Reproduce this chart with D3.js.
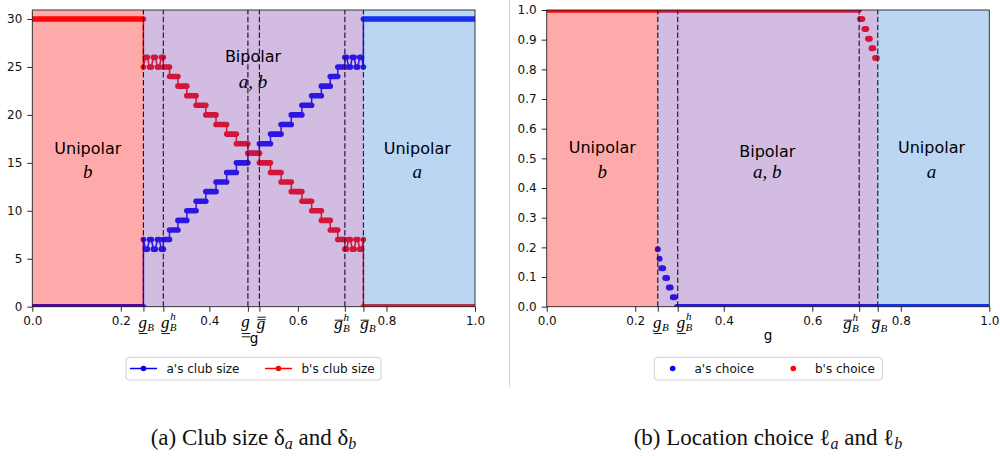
<!DOCTYPE html>
<html><head><meta charset="utf-8">
<script src="https://cdn.jsdelivr.net/npm/d3@7"></script>
<style>body{margin:0;background:#fff}svg{display:block}</style>
</head><body>
<svg id="c" width="1000" height="456"></svg>
<script>
// ---------------- data ----------------
const gB = 0.251, gBh = 0.296, gUU = 0.487, gOO = 0.513, gBarBh = 0.706, gBarB = 0.748;
const markLeft = [gB, gBh, gUU, gOO, gBarBh, gBarB];
const markLeftKinds = ["under", "underh", "dunder", "dover", "overh", "over"];
const markRight = [gB, gBh, gBarBh, gBarB];
const markRightKinds = ["under", "underh", "overh", "over"];
const xTicks = [0, 0.2, 0.4, 0.6, 0.8, 1.0];
const yTicksLeft = [0, 5, 10, 15, 20, 25, 30];
const yTicksRight = [0, 0.1, 0.2, 0.3, 0.4, 0.5, 0.6, 0.7, 0.8, 0.9, 1.0];

// staircase in the bipolar region (edges and step values)
const stepEdges = [0.296, 0.310, 0.329, 0.349, 0.370, 0.392, 0.415, 0.439, 0.461, 0.487, 0.513,
                   0.538, 0.562, 0.585, 0.609, 0.631, 0.653, 0.673, 0.690, 0.706];
const aClubSteps = [7, 8, 9, 10, 11, 12, 13, 14, 15, 16, 17, 18, 19, 20, 21, 22, 23, 24, 25];
const bClubSteps = [25, 24, 23, 22, 21, 20, 19, 18, 17, 16, 15, 14, 13, 12, 11, 10, 9, 8, 7];
// oscillating parts
const combLowG  = [0.251, 0.2555, 0.260, 0.2645, 0.269, 0.2735, 0.278, 0.2825, 0.287, 0.2915, 0.296];
const aCombLow  = [7, 6, 6, 7, 7, 6, 6, 7, 7, 6, 6];
const bCombLow  = [25, 26, 26, 25, 25, 26, 26, 25, 25, 26, 26];
const combHighG = [0.706, 0.7102, 0.7144, 0.7186, 0.7228, 0.727, 0.7312, 0.7354, 0.7396, 0.7438, 0.748];
const aCombHigh = [26, 26, 25, 25, 26, 26, 25, 25, 26, 26, 25];
const bCombHigh = [6, 6, 7, 7, 6, 6, 7, 7, 6, 6, 7];
// unipolar levels [below gB, above gBarB]
const aClubOuter = [0, 30];
const bClubOuter = [30, 0];

// location choice
const aChoiceG = [0.251, 0.255, 0.259, 0.263, 0.268, 0.272, 0.276, 0.280, 0.285, 0.289];
const aChoiceV = [0.194, 0.162, 0.130, 0.130, 0.097, 0.097, 0.065, 0.065, 0.032, 0.032];
const aChoiceFlat = [0.294, 1.0, 0];   // from, to, value
const bChoiceG = [0.708, 0.713, 0.718, 0.722, 0.726, 0.730, 0.734, 0.738, 0.742, 0.746];
const bChoiceV = [0.970, 0.970, 0.936, 0.936, 0.903, 0.903, 0.871, 0.871, 0.838, 0.838];
const bChoiceFlat = [0.0, 0.706, 1];

// ---------------- drawing ----------------
const svg = d3.select("#c");
const SANS = "DejaVu Sans, sans-serif";
const SERIF = "Liberation Serif, DejaVu Serif, serif";
const RED = "#ff0000", BLUE = "#0000ff";
const regionCols = ["rgb(255,12,12)", "rgb(126,64,169)", "rgb(61,138,221)"];
const regionAlpha = 0.35;

function makeChart(id, x0, x1, yScale, yTicks, yFmt) {
  const x = d3.scaleLinear().domain([0, 1]).range([x0, x1]);
  const y = yScale;
  const g = svg.append("g");
  const clipId = "clip" + id;
  svg.append("clipPath").attr("id", clipId).append("rect")
    .attr("x", x0).attr("y", y.range()[1]).attr("width", x1 - x0).attr("height", y.range()[0] - y.range()[1]);
  const series = g.append("g").attr("clip-path", `url(#${clipId})`);
  const over = g.append("g");
  const top = g.append("g");
  return {x, y, g, series, over, top, yTicks, yFmt, x0, x1};
}

function dashes(c, marks) {
  c.series.selectAll(null).data(marks).enter().append("line")
    .attr("x1", d => c.x(d)).attr("x2", d => c.x(d))
    .attr("y1", c.y.range()[0]).attr("y2", c.y.range()[1])
    .attr("stroke", "#000").attr("stroke-width", 1.2).attr("stroke-dasharray", "5.5,2.4");
}

function regions(c) {
  const spans = [[0, gB], [gB, gBarB], [gBarB, 1]];
  c.over.selectAll(null).data(spans).enter().append("rect")
    .attr("x", d => c.x(d[0])).attr("width", d => c.x(d[1]) - c.x(d[0]))
    .attr("y", c.y.range()[1]).attr("height", c.y.range()[0] - c.y.range()[1])
    .attr("fill", (d, i) => regionCols[i]).attr("fill-opacity", regionAlpha);
}

function axes(c, kinds, marks) {
  const t = c.top;
  const xa = d3.axisBottom(c.x).tickValues(xTicks.concat(marks)).tickSize(5).tickPadding(5).tickSizeOuter(0)
    .tickFormat(d => xTicks.includes(d) ? d3.format(".1f")(d) : "");
  const gx = t.append("g").attr("transform", `translate(0,${c.y.range()[0]})`).call(xa);
  const ya = d3.axisLeft(c.y).tickValues(c.yTicks).tickSize(5).tickPadding(5).tickSizeOuter(0).tickFormat(c.yFmt);
  const gy = t.append("g").attr("transform", `translate(${c.x0},0)`).call(ya);
  [gx, gy].forEach(a => {
    a.select(".domain").remove();
    a.selectAll("text").attr("font-family", SANS).attr("font-size", 12).attr("fill", "#111");
    a.selectAll("line").attr("stroke", "#111").attr("stroke-width", 0.9);
  });
  t.append("rect").attr("x", c.x0).attr("y", c.y.range()[1]).attr("width", c.x1 - c.x0)
    .attr("height", c.y.range()[0] - c.y.range()[1]).attr("fill", "none").attr("stroke", "#222").attr("stroke-width", 0.9);
  const offs = {under: -5, underh: -2.3, dunder: -6.6, dover: -2.6, overh: -10.7, over: -3.3};
  marks.forEach((m, i) => mathTick(t, c.x(m) + (c.offs ? c.offs[i] : offs[kinds[i]]), kinds[i]));
}

function mathTick(t, xs, kind) {
  const base = {under: 328, underh: 328, dunder: 326.5, dover: 329, overh: 329, over: 329}[kind];
  const gt = t.append("text").attr("x", xs).attr("y", base).attr("font-family", SERIF)
    .attr("font-style", "italic").attr("font-size", 17).attr("fill", "#000").text("g");
  const w = gt.node().getComputedTextLength();
  const hasB = kind !== "dunder" && kind !== "dover";
  if (hasB) t.append("text").attr("x", xs + w + 0.3).attr("y", base + 3).attr("font-family", SERIF)
    .attr("font-style", "italic").attr("font-size", 11).text("B");
  if (kind === "underh" || kind === "overh") t.append("text").attr("x", xs + w + 0.8).attr("y", base - 8)
    .attr("font-family", SERIF).attr("font-style", "italic").attr("font-size", 11).text("h");
  const ln = (yy) => t.append("line").attr("x1", xs + 0.5).attr("x2", xs + w + 0.5).attr("y1", yy).attr("y2", yy)
    .attr("stroke", "#000").attr("stroke-width", 0.9);
  if (kind === "under" || kind === "underh") ln(base + 5.5);
  if (kind === "dunder") { ln(base + 7); ln(base + 10.3); }
  if (kind === "over" || kind === "overh") ln(base - 8.8);
  if (kind === "dover") { ln(base - 11.8); ln(base - 9.3); }
}

function regionText(c, gx, y1, y2, word, math) {
  c.top.append("text").attr("x", c.x(gx)).attr("y", y1).attr("text-anchor", "middle")
    .attr("font-family", SANS).attr("font-size", 16).attr("fill", "#000").text(word);
  c.top.append("text").attr("x", c.x(gx)).attr("y", y2).attr("text-anchor", "middle")
    .attr("font-family", SERIF).attr("font-style", "italic").attr("font-size", 19).attr("fill", "#000").text(math);
}

// ---- left chart: club sizes
const L = makeChart("L", 32.3, 475, d3.scaleLinear().domain([0, 30.94]).range([306.7, 10]), yTicksLeft, d3.format("d"));

function clubSeries(outer, combLow, steps, combHigh, color) {
  const segs = [{g0: 0, g1: gB, v: outer[0]}];
  steps.forEach((v, i) => segs.push({g0: stepEdges[i], g1: stepEdges[i + 1], v}));
  segs.push({g0: gBarB, g1: 1, v: outer[1]});
  const pts = [[0, outer[0]], [gB, outer[0]]];
  combLowG.forEach((gg, i) => pts.push([gg, combLow[i]]));
  steps.forEach((v, i) => { pts.push([stepEdges[i], v]); pts.push([stepEdges[i + 1], v]); });
  combHighG.forEach((gg, i) => pts.push([gg, combHigh[i]]));
  pts.push([gBarB, outer[1]]); pts.push([1, outer[1]]);
  const line = d3.line().x(d => L.x(d[0])).y(d => L.y(d[1]));
  const s = L.series.append("g");
  s.selectAll(null).data(segs).enter().append("line")
    .attr("x1", d => L.x(d.g0)).attr("x2", d => L.x(d.g1)).attr("y1", d => L.y(d.v)).attr("y2", d => L.y(d.v))
    .attr("stroke", color).attr("stroke-width", 5.6).attr("stroke-linecap", "round");
  const combPts = combLowG.map((gg, i) => [gg, combLow[i]]).concat(combHighG.map((gg, i) => [gg, combHigh[i]]));
  s.selectAll(null).data(combPts).enter().append("circle")
    .attr("cx", d => L.x(d[0])).attr("cy", d => L.y(d[1])).attr("r", 2.8).attr("fill", color);
  s.append("path").attr("d", line(pts)).attr("fill", "none").attr("stroke", color).attr("stroke-width", 1.5);
}
clubSeries(aClubOuter, aCombLow, aClubSteps, aCombHigh, BLUE);
clubSeries(bClubOuter, bCombLow, bClubSteps, bCombHigh, RED);
dashes(L, markLeft);
regions(L);
axes(L, markLeftKinds, markLeft);
regionText(L, 0.1255, 154, 178, "Unipolar", "b");
regionText(L, 0.4985, 62, 88, "Bipolar", "a, b");
regionText(L, 0.8695, 154, 178, "Unipolar", "a");
L.top.append("text").attr("x", 254).attr("y", 343).attr("text-anchor", "middle")
  .attr("font-family", SANS).attr("font-size", 13.5).text("g");

// ---- right chart: location choice
const R = makeChart("R", 546.7, 989.3, d3.scaleLinear().domain([0, 1]).range([306.7, 10]), yTicksRight, d3.format(".1f"));
R.offs = [-4.7, -1, -16, -6];
function choiceSeries(flat, gs, vs, color) {
  const s = R.series.append("g");
  s.append("line").attr("x1", R.x(flat[0])).attr("x2", R.x(flat[1]))
    .attr("y1", R.y(flat[2])).attr("y2", R.y(flat[2]))
    .attr("stroke", color).attr("stroke-width", 5.6).attr("stroke-linecap", "round");
  s.selectAll(null).data(gs).enter().append("circle")
    .attr("cx", d => R.x(d)).attr("cy", (d, i) => R.y(vs[i])).attr("r", 3).attr("fill", color);
}
choiceSeries(aChoiceFlat, aChoiceG, aChoiceV, BLUE);
choiceSeries(bChoiceFlat, bChoiceG, bChoiceV, RED);
dashes(R, markRight);
regions(R);
axes(R, markRightKinds, markRight);
regionText(R, 0.1255, 153, 178, "Unipolar", "b");
regionText(R, 0.4985, 157, 178, "Bipolar", "a, b");
regionText(R, 0.8695, 153, 178, "Unipolar", "a");
R.top.append("text").attr("x", 768).attr("y", 340).attr("text-anchor", "middle")
  .attr("font-family", SANS).attr("font-size", 13.5).text("g");

// ---- legends
function legend(x, w, items, withLine) {
  const lg = svg.append("g");
  lg.append("rect").attr("x", x).attr("y", 357.3).attr("width", w).attr("height", 22.7).attr("rx", 3)
    .attr("fill", "#fff").attr("fill-opacity", 0.8).attr("stroke", "#d0d0d0").attr("stroke-width", 1);
  items.forEach(it => {
    if (withLine) lg.append("line").attr("x1", it.cx - 13.5).attr("x2", it.cx + 13.5).attr("y1", 368.5).attr("y2", 368.5)
      .attr("stroke", it.color).attr("stroke-width", 1.5);
    lg.append("circle").attr("cx", it.cx).attr("cy", 368.5).attr("r", 2.8).attr("fill", it.color);
    lg.append("text").attr("x", it.tx).attr("y", 372.8).attr("font-family", SANS).attr("font-size", 12)
      .attr("fill", "#111").text(it.label);
  });
}
const legendLeft = ["a's club size", "b's club size"];
const legendRight = ["a's choice", "b's choice"];
legend(126, 255, [{cx: 143.5, tx: 166.5, color: BLUE, label: legendLeft[0]},
                  {cx: 278.5, tx: 301.5, color: RED, label: legendLeft[1]}], true);
legend(654.3, 228, [{cx: 672.7, tx: 694.5, color: BLUE, label: legendRight[0]},
                    {cx: 793.3, tx: 815, color: RED, label: legendRight[1]}], false);

// separator
svg.append("line").attr("x1", 509.5).attr("x2", 509.5).attr("y1", 0).attr("y2", 387)
  .attr("stroke", "#d4d4d4").attr("stroke-width", 1);

// captions
function caption(cx, parts) {
  const t = svg.append("text").attr("x", cx).attr("y", 445).attr("text-anchor", "middle")
    .attr("font-family", SERIF).attr("font-size", 23).attr("fill", "#111");
  parts.forEach(p => {
    const ts = t.append("tspan").text(p[0]);
    if (p[1] === "sub") ts.attr("font-size", 16).attr("font-style", "italic").attr("baseline-shift", "-4");
  });
}
caption(253.5, [["(a) Club size δ"], ["a", "sub"], [" and δ"], ["b", "sub"]]);
caption(768, [["(b) Location choice ℓ"], ["a", "sub"], [" and ℓ"], ["b", "sub"]]);
</script>
</body></html>
